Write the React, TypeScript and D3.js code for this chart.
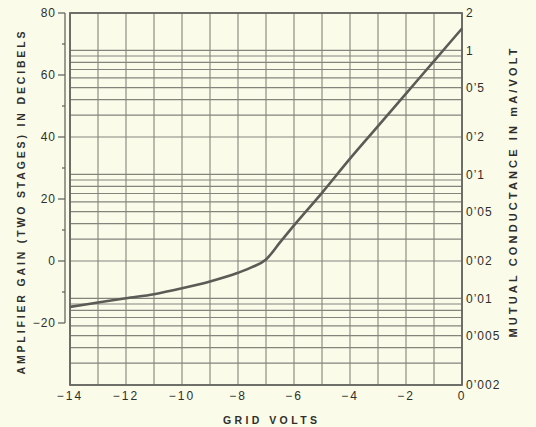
import * as d3 from "d3";

// curve: grid volts vs amplifier gain (dB)
const gridVolts = [-14, -13, -12, -11, -10, -9, -8, -7.5, -7, -6.5, -6, -5, -4, -3, -2, -1, 0];
const gainDb = [-14.8, -13.4, -12, -10.7, -8.8, -6.6, -3.8, -2.0, 0.5, 6, 11.5, 22, 33, 43.5, 54, 64.5, 75];

const xTicks = [-14, -12, -10, -8, -6, -4, -2, 0];
const dbMajor = [80, 60, 40, 20, 0, -20];
const dbMinor = [70, 50, 30, 10, -10];
const gmTicks = [2, 1, 0.5, 0.2, 0.1, 0.05, 0.02, 0.01, 0.005, 0.002];
const gmLabels = ["2", "1", "0’5", "0’2", "0’1", "0’05", "0’02", "0’01", "0’005", "0’002"];

const W = 536;
const H = 427;
const m = { top: 13, right: 74, bottom: 42, left: 70 };

const bg = "#fbfbea";
const gridCol = "#83857c";
const ink = "#2e2f2b";
const font = "'Liberation Sans', Arial, sans-serif";

export default function App() {
  const x = d3.scaleLinear().domain([-14, 0]).range([m.left, W - m.right]);
  const yDb = d3.scaleLinear().domain([-40, 80]).range([H - m.bottom, m.top]);
  const yGm = d3.scaleLog().domain([0.002, 2]).range([H - m.bottom, m.top]);

  // log grid lines 1..9 in every decade
  const hLines: number[] = [];
  [0.001, 0.01, 0.1, 1].forEach((d) => {
    for (let k = 1; k <= 9; k++) {
      const v = +(d * k).toPrecision(3);
      if (v >= 0.002 && v <= 2) hLines.push(v);
    }
  });
  const vLines = d3.range(-14, 1, 1);

  const line = d3
    .line<number>()
    .x((d, i) => x(gridVolts[i]))
    .y((d) => yDb(d))
    .curve(d3.curveMonotoneX);

  const x0 = x(-14);
  const x1 = x(0);
  const yTop = yDb(80);
  const yBot = yDb(-40);
  const spineX = x0 - 5;

  return (
    <svg width={W} height={H} style={{ position: "absolute", left: 0, top: 0, background: bg }}>
      <rect width={W} height={H} fill={bg} />

      {/* grid */}
      <g stroke={gridCol} strokeWidth={1.1}>
        {hLines.map((v) => (
          <line key={"h" + v} x1={x0} x2={x1} y1={yGm(v)} y2={yGm(v)} />
        ))}
        {vLines.map((v) => (
          <line key={"v" + v} x1={x(v)} x2={x(v)} y1={yTop} y2={yBot} />
        ))}
      </g>
      <rect x={x0} y={yTop} width={x1 - x0} height={yBot - yTop} fill="none" stroke="#656760" strokeWidth={1.8} />

      {/* curve */}
      <path d={line(gainDb) || ""} fill="none" stroke="#5a5c55" strokeWidth={2.6} />

      {/* left axis */}
      <g stroke="#656760" strokeWidth={1.3}>
        <line x1={spineX} x2={spineX} y1={yDb(80)} y2={yDb(-20)} />
        {dbMajor.map((v) => (
          <line key={"M" + v} x1={spineX - 7} x2={spineX} y1={yDb(v)} y2={yDb(v)} />
        ))}
        {dbMinor.map((v) => (
          <line key={"m" + v} x1={spineX - 3} x2={spineX} y1={yDb(v)} y2={yDb(v)} />
        ))}
      </g>
      <g fontFamily={font} fontSize={12} fill={ink} letterSpacing={1}>
        {dbMajor.map((v) => (
          <text key={"l" + v} x={spineX - 9} y={yDb(v)} dy="0.36em" textAnchor="end">
            {v < 0 ? "−" + Math.abs(v) : v}
          </text>
        ))}
        {xTicks.map((v) => (
          <text key={"x" + v} x={x(v)} y={yBot + 15} textAnchor="middle" letterSpacing={2}>
            {v < 0 ? "−" + Math.abs(v) : v}
          </text>
        ))}
        {gmTicks.map((v, i) => (
          <text key={"g" + v} x={x1 + 4} y={yGm(v)} dy="0.36em" letterSpacing={1}>
            {gmLabels[i]}
          </text>
        ))}
      </g>

      {/* axis titles */}
      <g fontFamily={font} fill={ink} fontSize={10.5} fontWeight={600}>
        <text x={270} y={424} textAnchor="middle" textLength={94} lengthAdjust="spacing">
          GRID VOLTS
        </text>
        <text
          transform={`translate(25, 203) rotate(-90)`}
          textAnchor="middle"
          textLength={343}
          lengthAdjust="spacing"
        >
          AMPLIFIER GAIN (TWO STAGES) IN DECIBELS
        </text>
        <text
          transform={`translate(517, 193) rotate(-90)`}
          textAnchor="middle"
          textLength={289}
          lengthAdjust="spacing"
          fontSize={11}
        >
          MUTUAL CONDUCTANCE IN mA/VOLT
        </text>
      </g>
    </svg>
  );
}
